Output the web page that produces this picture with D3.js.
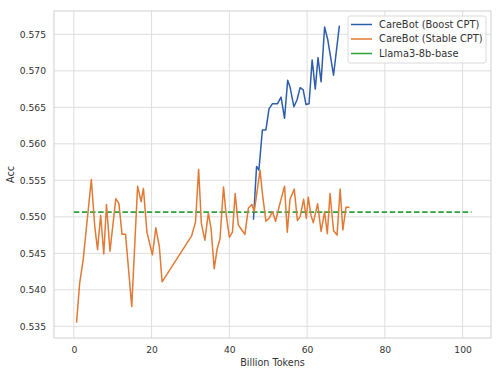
<!DOCTYPE html>
<html>
<head>
<meta charset="utf-8">
<script src="https://cdn.jsdelivr.net/npm/d3@7"></script>
<style>
  body { margin: 0; background: #fff; }
  svg { font-family: "DejaVu Sans", sans-serif; }
</style>
</head>
<body>
<div id="chart"></div>
<script>
// values
const boostX = [46.2, 47.0, 47.6, 48.5, 49.4, 50.2, 51.1, 52.4, 53.3, 54.2, 55.0, 55.6, 56.6, 57.4, 58.2, 59.0, 59.7, 60.5, 61.3, 62.1, 62.8, 63.6, 64.5, 65.3, 66.8, 68.3];
const boostY = [0.5496, 0.5569, 0.5564, 0.5619, 0.5619, 0.5648, 0.5655, 0.5655, 0.5664, 0.5635, 0.5687, 0.5678, 0.5651, 0.5660, 0.5677, 0.5674, 0.5654, 0.5655, 0.5715, 0.5675, 0.5718, 0.5685, 0.5760, 0.5743, 0.5694, 0.5762];

const stableX = [0.7, 1.5, 2.4, 4.5, 5.4, 6.1, 6.9, 7.7, 8.4, 9.3, 10.8, 11.6, 12.4, 13.3, 14.9, 16.4, 17.3, 17.9, 18.8, 20.2, 21.1, 22.0, 22.7,
  30.3, 31.3, 32.1, 32.8, 33.7, 34.6, 35.3, 36.1, 36.9, 37.6, 38.5, 39.1, 40.0, 40.8, 41.5, 42.3, 43.2, 44.0, 44.9, 45.8, 46.4,
  47.9, 48.5, 49.4, 50.2, 51.1, 51.9, 52.9, 54.2, 54.9, 55.6, 56.7, 57.5, 58.2, 59.1, 59.8, 60.3, 61.0, 61.6, 62.7, 63.6, 64.5,
  65.2, 65.9, 66.8, 67.7, 68.5, 69.2, 70.0, 70.9];
const stableY = [0.5355, 0.5409, 0.5441, 0.5551, 0.5486, 0.5455, 0.5502, 0.5449, 0.5517, 0.5453, 0.5525, 0.5518, 0.5476, 0.5476, 0.5377, 0.5542, 0.5521, 0.5539, 0.5479, 0.5448, 0.5485, 0.5459, 0.5411,
  0.5474, 0.5493, 0.5565, 0.5491, 0.5468, 0.5505, 0.5484, 0.5429, 0.5457, 0.5470, 0.5541, 0.5507, 0.5472, 0.5479, 0.5532, 0.5489, 0.5482, 0.5476, 0.5512, 0.5517, 0.5507,
  0.5564, 0.5532, 0.5494, 0.5498, 0.5507, 0.5494, 0.5516, 0.5542, 0.5479, 0.5524, 0.5538, 0.5495, 0.5500, 0.5524, 0.5498, 0.5527, 0.5502, 0.5492, 0.5518, 0.5480, 0.5507,
  0.5477, 0.5532, 0.5481, 0.5475, 0.5538, 0.5482, 0.5513, 0.5513];

const baseX = [0, 102.3];
const baseAcc = 0.55065;

const xTicks = [0, 20, 40, 60, 80, 100];
const yTicks = [0.535, 0.540, 0.545, 0.550, 0.555, 0.560, 0.565, 0.570, 0.575];

const seriesNames = ['CareBot (Boost CPT)', 'CareBot (Stable CPT)', 'Llama3-8b-base'];
const seriesColors = ['#2d5dab', '#e07a35', '#2ba33a'];

const width = 500, height = 370;
const margin = {top: 11, right: 9, bottom: 32, left: 54};

const svg = d3.select('#chart')
    .append('svg')
    .attr('width', width)
    .attr('height', height);

const x = d3.scaleLinear().domain([-5.1, 107.3]).range([margin.left, width - margin.right]);
const y = d3.scaleLinear().domain([0.5334, 0.5782]).range([height - margin.bottom, margin.top]);

// grid
const grid = svg.append('g').attr('stroke', '#dedede').attr('stroke-width', 1);
grid.selectAll('line.v')
    .data(xTicks)
    .join('line')
    .attr('class', 'v')
    .attr('x1', d => x(d)).attr('x2', d => x(d))
    .attr('y1', margin.top).attr('y2', height - margin.bottom);
grid.selectAll('line.h')
    .data(yTicks)
    .join('line')
    .attr('class', 'h')
    .attr('x1', margin.left).attr('x2', width - margin.right)
    .attr('y1', d => y(d)).attr('y2', d => y(d));

// axes, no tick marks like seaborn whitegrid
const xAxis = svg.append('g')
    .attr('transform', `translate(0,${height - margin.bottom})`)
    .call(d3.axisBottom(x).tickValues(xTicks).tickSize(0).tickPadding(8));
const yAxis = svg.append('g')
    .attr('transform', `translate(${margin.left},0)`)
    .call(d3.axisLeft(y).tickValues(yTicks).tickSize(0).tickPadding(8).tickFormat(d3.format('.3f')));
[xAxis, yAxis].forEach(a => {
    a.select('.domain').remove();
    a.selectAll('text').attr('font-size', 9.2).attr('fill', '#333').attr('font-family', '"DejaVu Sans", sans-serif');
});

// frame
svg.append('rect')
    .attr('x', margin.left).attr('y', margin.top)
    .attr('width', width - margin.left - margin.right)
    .attr('height', height - margin.top - margin.bottom)
    .attr('fill', 'none')
    .attr('stroke', '#d0d0d0')
    .attr('stroke-width', 1);

svg.append('text')
    .attr('x', (x.range()[0] + x.range()[1]) / 2)
    .attr('y', 366)
    .attr('text-anchor', 'middle')
    .attr('font-size', 9.6)
    .attr('fill', '#333')
    .text('Billion Tokens');

svg.append('text')
    .attr('transform', `translate(14,${(margin.top + height - margin.bottom) / 2}) rotate(-90)`)
    .attr('text-anchor', 'middle')
    .attr('font-size', 9.6)
    .attr('fill', '#333')
    .text('Acc');

const line = d3.line().x(d => x(d[0])).y(d => y(d[1]));

// baseline
svg.append('path')
    .attr('d', line(baseX.map(v => [v, baseAcc])))
    .attr('fill', 'none')
    .attr('stroke', seriesColors[2])
    .attr('stroke-width', 1.6)
    .attr('stroke-dasharray', '5.5,2.6');

svg.append('path')
    .attr('d', line(boostX.map((v, i) => [v, boostY[i]])))
    .attr('fill', 'none')
    .attr('stroke', seriesColors[0])
    .attr('stroke-width', 1.5)
    .attr('stroke-linejoin', 'round');

svg.append('path')
    .attr('d', line(stableX.map((v, i) => [v, stableY[i]])))
    .attr('fill', 'none')
    .attr('stroke', seriesColors[1])
    .attr('stroke-width', 1.5)
    .attr('stroke-linejoin', 'round');

// legend
const legend = svg.append('g').attr('transform', 'translate(348,16)');
legend.append('rect')
    .attr('width', 138).attr('height', 47)
    .attr('rx', 2)
    .attr('fill', 'rgba(255,255,255,0.85)')
    .attr('stroke', '#d0d0d0')
    .attr('stroke-width', 0.8);
const items = legend.selectAll('g.item')
    .data(seriesNames)
    .join('g')
    .attr('class', 'item')
    .attr('transform', (d, i) => `translate(0,${8.5 + i * 14.5})`);
items.append('line')
    .attr('x1', 3).attr('x2', 24)
    .attr('stroke', (d, i) => seriesColors[i])
    .attr('stroke-width', 1.5);
items.append('text')
    .attr('x', 31)
    .attr('dy', '0.35em')
    .attr('font-size', 9.9)
    .attr('fill', '#333')
    .text(d => d);
</script>
</body>
</html>
